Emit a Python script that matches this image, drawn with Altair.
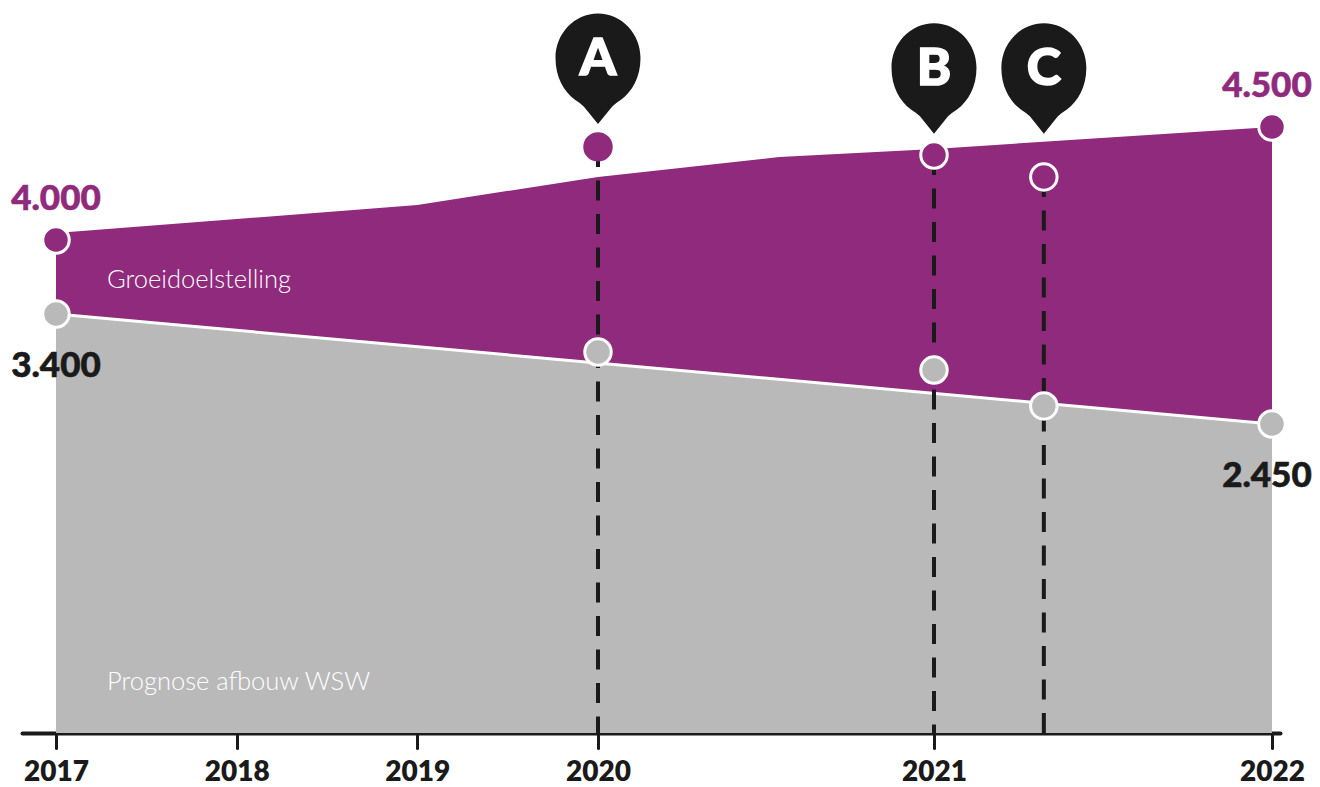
import altair as alt
import pandas as pd

# Values (the source graphic's vertical axis is not linear)
top_years = [2017, 2019, 2020, 2020.54, 2021, 2022]
top_values = [4031, 4155, 4279, 4367, 4403, 4500]
base_years = [2017, 2022]
base_values = [3400, 2450]

tick_years = [2017, 2018, 2019, 2020, 2021, 2022]

marker_names = ["A", "B", "C"]
marker_years = [2020, 2021, 2021.325]
marker_goal = [4412, 4376, 4279]
marker_prog = [3072, 2916, 2606]
marker_tip = [4513, 4470, 4470]

end_years = [2017, 2022]
end_goal = [4000, 4500]
end_goal_text = ["4.000", "4.500"]
end_prog = [3400, 2450]
end_prog_text = ["3.400", "2.450"]
end_text_years = [2017, 2021.985]

series_names = ["Groeidoelstelling", "Prognose afbouw WSW"]
series_x = [2017.282, 2017.282]
series_y = [3676, 404]

PURPLE = "#8F2A7C"
GREY = "#B9B9B9"
BLACK = "#1A1A1A"
FONT = "Lato"

PIN = ("M0,0 L-0.33,-0.41 Q-0.42,-0.5 -0.55,-0.58 "
       "C-0.8,-0.76 -1,-1.1 -1,-1.553 C-1,-2.129 -0.553,-2.6 0,-2.6 "
       "C0.553,-2.6 1,-2.129 1,-1.553 C1,-1.1 0.8,-0.76 0.55,-0.58 "
       "Q0.42,-0.5 0.33,-0.41 Z")

x_scale = alt.Scale(
    domain=[2016.812, 2017, 2020, 2021, 2022, 2022.024],
    range=[14, 48, 590, 926, 1264, 1272],
    nice=False, zero=False,
)
y_scale = alt.Scale(
    domain=[0, 2450, 3400, 4000, 4500, 5026],
    range=[725, 416, 306, 232, 119, 0],
    nice=False, zero=False,
)

x_axis = alt.Axis(
    values=tick_years, format="d", grid=False, labelOverlap=False,
    labelFlush=False, labelBound=False, labelFont=FONT, labelFontWeight=800,
    labelFontSize=28, labelColor=BLACK, labelPadding=10, tickSize=15,
    tickWidth=3, tickColor=BLACK, tickCap="round", domainColor=BLACK,
    domainWidth=4, domainCap="round",
)
X = alt.X("x:Q", scale=x_scale, title=None, axis=x_axis)
TX = alt.X("tx:Q", scale=x_scale, title=None, axis=x_axis)
Y = alt.Y("y:Q", scale=y_scale, title=None, axis=None)


def Yf(field):
    return alt.Y(f"{field}:Q", scale=y_scale, title=None, axis=None)


top_df = pd.DataFrame({"x": top_years, "y": top_values})
base_df = pd.DataFrame({"x": base_years, "y": base_values})
mk = pd.DataFrame({"x": marker_years, "goal": marker_goal, "prog": marker_prog,
                   "tip": marker_tip, "name": marker_names})
goal_df = pd.DataFrame({"x": end_years, "tx": end_text_years, "y": end_goal, "t": end_goal_text})
prog_df = pd.DataFrame({"x": end_years, "tx": end_text_years, "y": end_prog, "t": end_prog_text})
names = pd.DataFrame({"x": series_x, "y": series_y, "t": series_names})

purple_area = alt.Chart(top_df).mark_area(color=PURPLE, opacity=1).encode(x=X, y=Y)
grey_area = alt.Chart(base_df).mark_area(color=GREY, opacity=1).encode(x=X, y=Y)
white_line = alt.Chart(base_df).mark_line(color="white", strokeWidth=3).encode(x=X, y=Y)

drops = alt.Chart(mk).mark_rule(color=BLACK, strokeWidth=4, strokeDash=[20, 13.5]).encode(
    x=X, y=Yf("goal"), y2=alt.datum(0)
)

circle = dict(filled=True, opacity=1, size=700, strokeWidth=3)
goal_end_pts = alt.Chart(goal_df).mark_point(color=PURPLE, stroke="white", **circle).encode(x=X, y=Y)
prog_end_pts = alt.Chart(prog_df).mark_point(color=GREY, stroke="white", **circle).encode(x=X, y=Y)
goal_pts = alt.Chart(mk).mark_point(color=PURPLE, **circle).encode(
    x=X, y=Yf("goal"),
    stroke=alt.condition("datum.name === 'A'", alt.value(PURPLE), alt.value("white")),
)
prog_pts = alt.Chart(mk).mark_point(color=GREY, stroke="white", **circle).encode(
    x=X, y=Yf("prog")
)

pins = alt.Chart(mk).mark_point(
    shape=PIN, filled=True, color=BLACK, opacity=1, size=7225, strokeWidth=0
).encode(x=X, y=Yf("tip"))
pin_text = alt.Chart(mk).mark_text(
    font=FONT, fontWeight=900, fontSize=52, color="white", stroke="white", strokeWidth=1.5,
    baseline="middle", dy=-65
).encode(x=X, y=Yf("tip"), text="name:N")

val = dict(font=FONT, fontWeight=900, fontSize=35, baseline="middle", strokeWidth=0.6)
goal_text = alt.Chart(goal_df).mark_text(color=PURPLE, stroke=PURPLE, dy=-41, **val).encode(x=TX, y=Y, text="t:N")
prog_text = alt.Chart(prog_df).mark_text(color=BLACK, stroke=BLACK, dy=52, **val).encode(x=TX, y=Y, text="t:N")

name_text = alt.Chart(names).mark_text(
    font=FONT, fontWeight=300, fontSize=25.5, color="white", align="left", baseline="middle"
).encode(x=X, y=Y, text="t:N")

chart = alt.layer(
    purple_area, grey_area, white_line, drops, name_text,
    goal_end_pts, prog_end_pts, goal_pts, prog_pts, pins, pin_text, goal_text, prog_text,
).properties(
    width=1304, height=725,
    autosize=alt.AutoSizeParams(type="none"),
    padding={"left": 0, "top": 0, "right": 0, "bottom": 54},
    background="white",
).configure_view(stroke=None)

chart.save("out.html", embed_options={"renderer": "svg", "actions": False})
